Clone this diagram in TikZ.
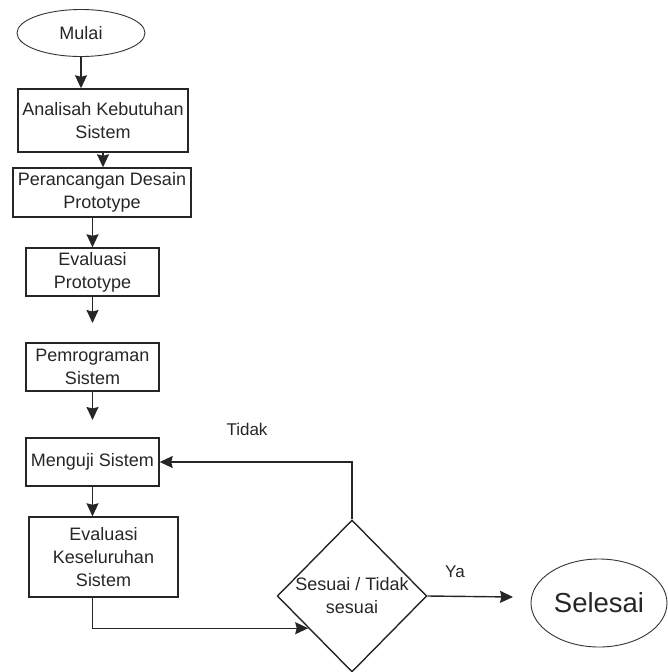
\documentclass[tikz,border=0pt]{standalone}
\usepackage{fontspec}
\setmainfont{Liberation Sans}
\usetikzlibrary{shapes.geometric,arrows.meta,calc}

\tikzset{
  box/.style={draw=black!85, line width=1.4pt, rectangle, align=center, inner sep=0pt},
  term/.style={draw=black!80, line width=0.9pt, ellipse, inner sep=0pt},
  decide/.style={draw=black!85, line width=1.4pt, diamond, align=center, inner sep=0pt},
  flow/.style={->, draw=black!85, line width=1.4pt},
  lbl/.style={font=\fontsize{17}{20}\selectfont},
}

\begin{document}
\begin{tikzpicture}[x=1pt, y=-1pt, >={Stealth[length=13pt,width=12pt,inset=1.5pt]},
    font=\fontsize{18}{23}\selectfont, text=black!85]
  \useasboundingbox (0,0) rectangle (668,672);

  % start and steps
  \node[term, minimum width=128pt, minimum height=47pt] (mulai) at (81,33) {Mulai};
  \node[box, minimum width=170pt, minimum height=63pt] (analisa) at (103,120.5) {Analisah Kebutuhan\\Sistem};
  \node[box, minimum width=178pt, minimum height=49pt] (rancang) at (102,192.5) {Perancangan Desain\\Prototype};
  \node[box, minimum width=133pt, minimum height=48pt] (evalproto) at (92.5,272) {Evaluasi\\Prototype};
  \node[box, minimum width=133pt, minimum height=48pt] (program) at (92.5,367) {Pemrograman\\Sistem};
  \node[box, minimum width=133pt, minimum height=48pt] (uji) at (92.5,462) {Menguji Sistem};
  \node[box, minimum width=149pt, minimum height=80pt] (evalall) at (103.5,557) {Evaluasi\\Keseluruhan\\Sistem};

  % decision and end
  \node[decide, minimum width=148pt, minimum height=152pt] (cek) at (352,596) {Sesuai / Tidak\\sesuai};
  \node[term, minimum width=136pt, minimum height=88pt, font=\fontsize{27.5}{30}\selectfont] (selesai) at (599,603) {Selesai};

  % free arrow ends
  \coordinate (gap1) at (92.5,323);
  \coordinate (gap2) at (92.5,420);
  \coordinate (yaend) at (513,597);

  % connectors
  \draw[flow] (mulai.south) -- (mulai.south |- analisa.north);
  \draw[flow] (analisa.south) -- (analisa.south |- rancang.north);
  \draw[flow] (evalproto.north |- rancang.south) -- (evalproto.north);
  \draw[flow] (evalproto.south) -- (gap1);
  \draw[flow] (program.south) -- (gap2);
  \draw[flow] (uji.south) -- (uji.south |- evalall.north);
  \draw[flow] (evalall.south -| uji.south) |- ($(cek.west)!0.42!(cek.south)$);
  \draw[flow] (cek.north) |- (uji.east);
  \draw[flow] (cek.east) -- (yaend);

  % labels
  \node[lbl] (tidak) at (247,429) {Tidak};
  \node[lbl] (ya) at (455,572) {Ya};
\end{tikzpicture}
\end{document}
